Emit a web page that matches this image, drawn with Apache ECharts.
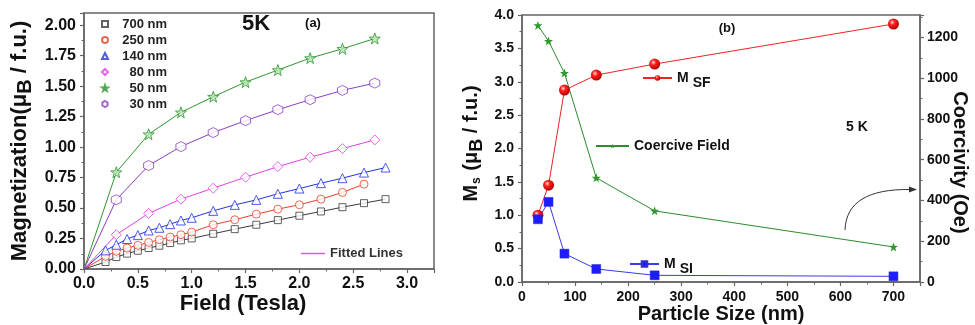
<!DOCTYPE html>
<html>
<head>
<meta charset="utf-8">
<script src="https://cdn.jsdelivr.net/npm/echarts@6/dist/echarts.min.js"></script>
<style>
  html, body { margin: 0; padding: 0; background: #fff; }
  #main { width: 975px; height: 325px; }
</style>
</head>
<body>
<div id="main"></div>
<script>
// (a) 5K magnetisation curves
var fieldFine = [0.2, 0.3, 0.4, 0.5, 0.6, 0.7, 0.8, 0.9, 1.0, 1.2, 1.4, 1.6, 1.8, 2.0, 2.2, 2.4, 2.6, 2.8];
var field250 = [0.2, 0.3, 0.4, 0.5, 0.6, 0.7, 0.8, 0.9, 1.0, 1.2, 1.4, 1.6, 1.8, 2.0, 2.2, 2.4, 2.6];
var fieldCoarse = [0.3, 0.6, 0.9, 1.2, 1.5, 1.8, 2.1, 2.4, 2.7];

var m700 = [0.057, 0.098, 0.126, 0.150, 0.172, 0.191, 0.213, 0.235, 0.251, 0.289, 0.327, 0.363, 0.401, 0.437, 0.472, 0.507, 0.540, 0.573];
var m250 = [0.104, 0.145, 0.172, 0.194, 0.218, 0.240, 0.262, 0.281, 0.303, 0.363, 0.404, 0.450, 0.491, 0.527, 0.573, 0.628, 0.696];
var m140 = [0.153, 0.199, 0.246, 0.278, 0.316, 0.338, 0.368, 0.398, 0.420, 0.477, 0.526, 0.567, 0.617, 0.660, 0.704, 0.745, 0.791, 0.832];
var m80 = [0.281, 0.456, 0.573, 0.663, 0.753, 0.840, 0.917, 0.988, 1.059];
var m50 = [0.794, 1.105, 1.285, 1.413, 1.533, 1.632, 1.730, 1.806, 1.891];
var m30 = [0.568, 0.849, 1.004, 1.119, 1.217, 1.307, 1.389, 1.465, 1.525];

// (b) vs particle size
var sizes = [30, 50, 80, 140, 250, 700];
var msf = [1.00, 1.45, 2.875, 3.10, 3.265, 3.865];
var msi = [0.94, 1.20, 0.425, 0.195, 0.10, 0.085];
var coercive = [1259, 1182, 1025, 511, 349, 172];

var star = 'path://M0,-10L2.35,-3.24L9.51,-3.09L3.8,1.24L5.88,8.09L0,4L-5.88,8.09L-3.8,1.24L-9.51,-3.09L-2.35,-3.24Z';
var hexagon = 'path://M0,-10L8.66,-5L8.66,5L0,10L-8.66,5L-8.66,-5Z';

function pairs(xs, ys) {
	return xs.map(function (x, i) { return [x, ys[i]]; });
}

var setsA = [
	{name: '700 nm', x: fieldFine, y: m700, color: '#3a3a3a', symbol: 'rect', size: 7, fill: '#fff'},
	{name: '250 nm', x: field250, y: m250, color: '#e8402a', symbol: 'circle', size: 8, fill: '#fff'},
	{name: '140 nm', x: fieldFine, y: m140, color: '#2233dd', symbol: 'triangle', size: 9, fill: '#fff'},
	{name: '80 nm', x: fieldCoarse, y: m80, color: '#e040e0', symbol: 'diamond', size: 10, fill: '#fff'},
	{name: '50 nm', x: fieldCoarse, y: m50, color: '#2f962f', symbol: star, size: 11, fill: '#b5e3b5'},
	{name: '30 nm', x: fieldCoarse, y: m30, color: '#8a3fbf', symbol: hexagon, size: 10, fill: '#fff'}
];

var axisCol = '#666';
var bold = 'bold';
var series = [];
setsA.forEach(function (s) {
	// fitted line from the origin
	series.push({
		name: 'fit ' + s.name, type: 'line', xAxisIndex: 0, yAxisIndex: 0,
		data: [[0, 0]].concat(pairs(s.x, s.y)), symbol: 'none',
		lineStyle: {color: s.color, width: 1}, z: 2
	});
	series.push({
		name: s.name, type: 'scatter', xAxisIndex: 0, yAxisIndex: 0,
		data: pairs(s.x, s.y), symbol: s.symbol, symbolSize: s.size,
		itemStyle: {color: s.fill, borderColor: s.color, borderWidth: 1}, z: 3
	});
});
series.push({
	name: 'Fitted Lines', type: 'line', xAxisIndex: 0, yAxisIndex: 0, data: [],
	symbol: 'none', lineStyle: {color: '#ee55cc', width: 1}, itemStyle: {color: '#ee55cc'}
});

var sphere = {
	type: 'radial', x: 0.38, y: 0.35, r: 0.7,
	colorStops: [{offset: 0, color: '#ffd5d5'}, {offset: 0.35, color: '#ff1e1e'}, {offset: 1, color: '#a80000'}]
};
series.push({
	name: 'MSF', type: 'line', xAxisIndex: 1, yAxisIndex: 1, data: pairs(sizes, msf),
	symbol: 'circle', symbolSize: 11, itemStyle: {color: sphere},
	lineStyle: {color: '#ee2222', width: 1}, z: 4
});
series.push({
	name: 'Coercive Field', type: 'line', xAxisIndex: 1, yAxisIndex: 2, data: pairs(sizes, coercive),
	symbol: star, symbolSize: 9, itemStyle: {color: '#2e9a2e'},
	lineStyle: {color: '#2e8b2e', width: 1}, z: 3
});
series.push({
	name: 'MSI', type: 'line', xAxisIndex: 1, yAxisIndex: 1, data: pairs(sizes, msi),
	symbol: 'rect', symbolSize: 9, itemStyle: {color: '#1c1cff', borderColor: '#3030c0', borderWidth: 0.5},
	lineStyle: {color: '#3a3aee', width: 1}, z: 4
});

function valueAxis(extra) {
	var ax = {
		type: 'value',
		nameMoveOverlap: false,
		axisLine: {show: true, onZero: false, lineStyle: {color: axisCol, width: 1.5}},
		axisTick: {show: true, length: 4, lineStyle: {color: axisCol, width: 1.2}},
		minorTick: {show: true, splitNumber: 2, length: 2.5, lineStyle: {color: axisCol}},
		splitLine: {show: false},
		axisLabel: {color: '#111', fontWeight: bold, fontSize: 14, fontFamily: 'Liberation Sans', showMaxLabel: false}
	};
	for (var k in extra) ax[k] = extra[k];
	return ax;
}

var nameStyle = function (size) {
	return {
		color: '#111', fontFamily: 'Liberation Sans', fontWeight: bold, fontSize: size,
		rich: {
			n: {fontFamily: 'Liberation Sans', fontWeight: bold, fontSize: size, color: '#111'},
			b: {fontFamily: 'Liberation Sans', fontWeight: bold, fontSize: size - 2, color: '#111', padding: [11, 0, 0, 0]},
			s: {fontFamily: 'Liberation Sans', fontWeight: bold, fontSize: size - 8, color: '#111', padding: [10, 1, 0, 1]}
		}
	};
};

var legText = {fontFamily: 'Liberation Sans', fontWeight: bold, fontSize: 14, color: '#111'};
var subRich = {
	m: {fontFamily: 'Liberation Sans', fontWeight: bold, fontSize: 14, color: '#111'},
	s: {fontFamily: 'Liberation Sans', fontWeight: bold, fontSize: 14, color: '#111', padding: [11, 0, 0, 4]}
};

var myChart = echarts.init(document.getElementById('main'), null, {renderer: 'canvas'});
var option = {
	animation: false,
	backgroundColor: '#fff',
	grid: [
		{left: 84, top: 13, width: 350, height: 256, show: true, borderColor: axisCol, borderWidth: 1.5,
			backgroundColor: 'transparent', outerBoundsMode: 'none', containLabel: false},
		{left: 522, top: 15, width: 398, height: 267, show: true, borderColor: axisCol, borderWidth: 1.5,
			backgroundColor: 'transparent', outerBoundsMode: 'none', containLabel: false}
	],
	xAxis: [
		valueAxis({
			gridIndex: 0, min: 0, max: 3.25, interval: 0.5,
			axisLabel: {color: '#111', fontWeight: bold, fontSize: 16, fontFamily: 'Liberation Sans', margin: 7, showMaxLabel: false,
				formatter: function (v) { return v.toFixed(1); }},
			name: 'Field (Tesla)', nameLocation: 'middle', nameGap: 24,
			nameTextStyle: {color: '#111', fontFamily: 'Liberation Sans', fontWeight: bold, fontSize: 22, padding: [0, 32, 0, 0]}
		}),
		valueAxis({
			gridIndex: 1, min: 0, max: 750, interval: 100,
			axisLabel: {color: '#111', fontWeight: bold, fontSize: 14, fontFamily: 'Liberation Sans', margin: 8, showMaxLabel: false},
			name: 'Particle Size (nm)', nameLocation: 'middle', nameGap: 22,
			nameTextStyle: {color: '#111', fontFamily: 'Liberation Sans', fontWeight: bold, fontSize: 20}
		})
	],
	yAxis: [
		valueAxis({
			gridIndex: 0, min: 0, max: 2.1, interval: 0.25,
			axisLabel: {color: '#111', fontWeight: bold, fontSize: 16, fontFamily: 'Liberation Sans', margin: 8, showMaxLabel: false,
				formatter: function (v) { return v.toFixed(2); }},
			name: '{n|Magnetization(μ}{b|B}{n| / f.u.)}', nameLocation: 'middle', nameGap: 49, nameRotate: 90,
			nameTextStyle: nameStyle(22)
		}),
		valueAxis({
			gridIndex: 1, min: 0, max: 4, interval: 0.5,
			axisLabel: {color: '#111', fontWeight: bold, fontSize: 14, fontFamily: 'Liberation Sans', margin: 8,
				formatter: function (v) { return v.toFixed(1); }},
			name: '{n|M}{s|s}{n| (μ}{b|B}{n| / f.u.)}', nameLocation: 'middle', nameGap: 36, nameRotate: 90,
			nameTextStyle: Object.assign(nameStyle(20), {padding: [0, 0, 0, 10]})
		}),
		valueAxis({
			gridIndex: 1, position: 'right', min: 0, max: 1310, interval: 200,
			axisLabel: {color: '#111', fontWeight: bold, fontSize: 14, fontFamily: 'Liberation Sans', margin: 7, showMaxLabel: false,
				formatter: function (v) { return String(v); }},
			name: 'Coercivity (Oe)', nameLocation: 'middle', nameGap: 30, nameRotate: -90,
			nameTextStyle: {color: '#111', fontFamily: 'Liberation Sans', fontWeight: bold, fontSize: 20, padding: [0, 0, 0, 28]}
		})
	],
	legend: [
		{
			data: setsA.map(function (s) { return s.name; }),
			orient: 'vertical', left: 96, top: 12, itemWidth: 6, itemHeight: 6, itemGap: 2,
			textStyle: {fontFamily: 'Liberation Sans', fontWeight: bold, fontSize: 13, color: '#222', lineHeight: 14,
				rich: {t: {fontFamily: 'Liberation Sans', fontWeight: bold, fontSize: 13, color: '#222', width: 54, align: 'right'}}},
			formatter: function (name) { return '{t|' + name + '}'; }
		},
		{
			data: [{name: 'Fitted Lines', icon: 'rect'}], left: 296, top: 242, itemWidth: 24, itemHeight: 1.5, itemGap: 4,
			textStyle: {fontFamily: 'Liberation Sans', fontWeight: bold, fontSize: 13, color: '#333'}
		},
		{
			data: ['MSF'], left: 637, top: 66, itemWidth: 29, itemHeight: 7,
			textStyle: {rich: subRich},
			formatter: function () { return '{m|M}{s|SF}'; }
		},
		{
			data: ['Coercive Field'], left: 590, top: 134, itemWidth: 33, itemHeight: 6,
			textStyle: legText
		},
		{
			data: ['MSI'], left: 624, top: 252, itemWidth: 29, itemHeight: 7,
			textStyle: {rich: subRich},
			formatter: function () { return '{m|M}{s|SI}'; }
		}
	],
	graphic: [
		{type: 'text', x: 256, y: 24, style: {text: '5K', font: 'bold 22px "Liberation Sans"', fill: '#111', align: 'center', verticalAlign: 'middle'}},
		{type: 'text', x: 313, y: 23, style: {text: '(a)', font: 'bold 13px "Liberation Sans"', fill: '#111', align: 'center', verticalAlign: 'middle'}},
		{type: 'text', x: 727, y: 28, style: {text: '(b)', font: 'bold 13px "Liberation Sans"', fill: '#111', align: 'center', verticalAlign: 'middle'}},
		{type: 'text', x: 857, y: 127, style: {text: '5 K', font: 'bold 14px "Liberation Sans"', fill: '#111', align: 'center', verticalAlign: 'middle'}},
		{type: 'bezierCurve', shape: {x1: 845, y1: 230, x2: 910, y2: 189.5, cpx1: 846, cpy1: 202, cpx2: 868, cpy2: 189}, style: {stroke: '#333', lineWidth: 1, fill: null}},
		{type: 'polygon', shape: {points: [[917, 189.5], [909, 186.5], [909, 192.5]]}, style: {fill: '#333'}}
	],
	series: series
};
myChart.setOption(option);
</script>
</body>
</html>
